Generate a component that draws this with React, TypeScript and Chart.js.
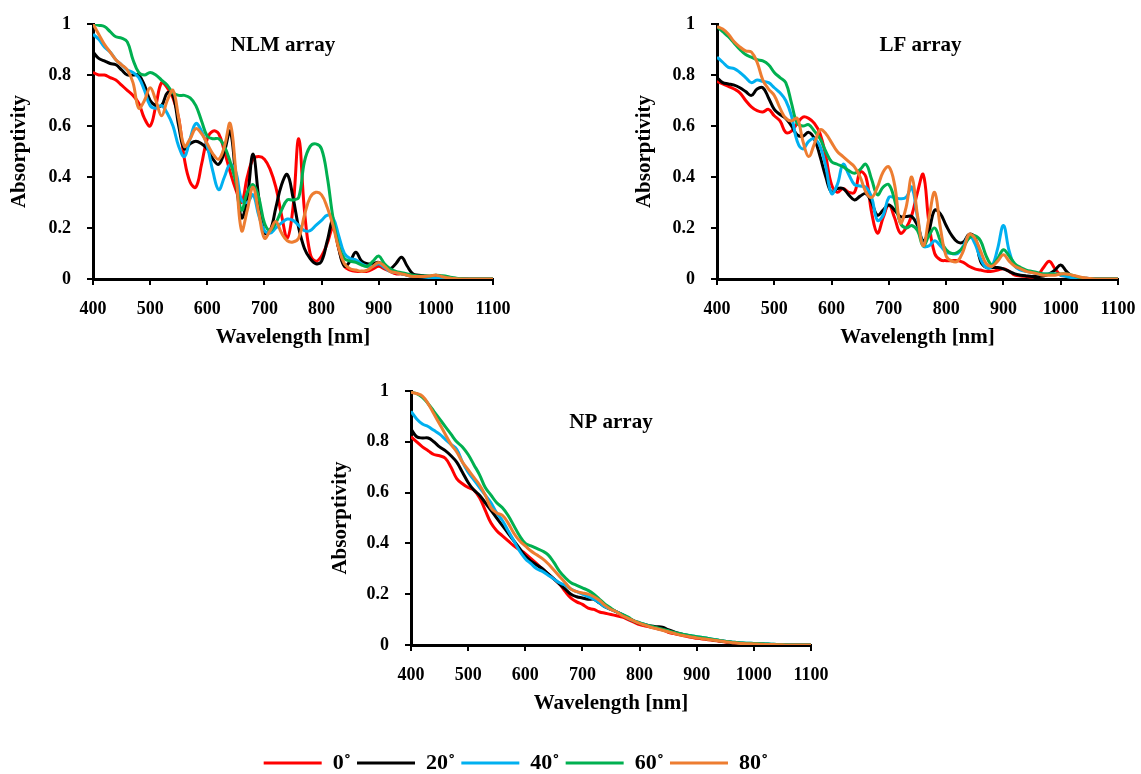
import { useEffect, useRef } from 'react';
import { Chart, registerables } from 'chart.js';

Chart.register(...registerables);

// ---------- data ----------
const wavelengths = [
  400, 410, 420, 430, 440, 450, 460, 470, 480, 490,
  500, 510, 520, 530, 540, 550, 560, 570, 580, 590,
  600, 610, 620, 630, 640, 650, 660, 670, 680, 690,
  700, 710, 720, 730, 740, 750, 760, 770, 780, 790,
  800, 810, 820, 830, 840, 850, 860, 870, 880, 890,
  900, 910, 920, 930, 940, 950, 960, 970, 980, 990,
  1000, 1010, 1020, 1030, 1040, 1050, 1060, 1070, 1080, 1090,
  1100,
];

const seriesLabels = ['0˚', '20˚', '40˚', '60˚', '80˚'];
const seriesColors = ['#FF0000', '#000000', '#00B0F0', '#00B050', '#ED7D31'];

const xTickLabels = ['400', '500', '600', '700', '800', '900', '1000', '1100'];
const yTickLabels = ['0', '0.2', '0.4', '0.6', '0.8', '1'];

// NLM array
const nlm0 = [
  0.81, 0.80, 0.80, 0.79, 0.78, 0.76, 0.74, 0.72, 0.69, 0.63,
  0.60, 0.68, 0.77, 0.75, 0.71, 0.63, 0.47, 0.38, 0.36, 0.45,
  0.55, 0.58, 0.57, 0.50, 0.42, 0.35, 0.30, 0.40, 0.47, 0.48,
  0.47, 0.43, 0.36, 0.25, 0.16, 0.28, 0.55, 0.27, 0.10, 0.07,
  0.09, 0.14, 0.20, 0.12, 0.05, 0.035, 0.03, 0.03, 0.03, 0.04,
  0.05, 0.04, 0.03, 0.02, 0.02, 0.015, 0.01, 0.01, 0.01, 0.01,
  0.015, 0.01, 0.005, 0.002, 0, 0, 0, 0, 0, 0,
  0,
];
const nlm20 = [
  0.89, 0.865, 0.855, 0.845, 0.84, 0.82, 0.80, 0.80, 0.80, 0.76,
  0.70, 0.68, 0.68, 0.73, 0.72, 0.60, 0.51, 0.53, 0.54, 0.53,
  0.51, 0.47, 0.45, 0.50, 0.58, 0.40, 0.24, 0.32, 0.49, 0.32,
  0.18, 0.19, 0.28, 0.37, 0.41, 0.32, 0.20, 0.12, 0.08, 0.06,
  0.07, 0.15, 0.23, 0.12, 0.05, 0.07, 0.105, 0.07, 0.06, 0.06,
  0.065, 0.05, 0.04, 0.06, 0.085, 0.05, 0.02, 0.015, 0.012, 0.01,
  0.01, 0.008, 0.005, 0.003, 0.002, 0.001, 0, 0, 0, 0,
  0,
];
const nlm40 = [
  0.96, 0.94, 0.91, 0.89, 0.86, 0.84, 0.82, 0.81, 0.79, 0.74,
  0.68, 0.67, 0.68, 0.65, 0.60, 0.52, 0.48, 0.55, 0.61, 0.58,
  0.52, 0.42, 0.35, 0.40, 0.45, 0.42, 0.31, 0.30, 0.33, 0.25,
  0.19, 0.18, 0.20, 0.22, 0.235, 0.23, 0.21, 0.19, 0.19, 0.21,
  0.23, 0.25, 0.24, 0.17, 0.10, 0.08, 0.075, 0.06, 0.05, 0.05,
  0.06, 0.045, 0.03, 0.025, 0.02, 0.015, 0.01, 0.01, 0.008, 0.006,
  0.005, 0.004, 0.002, 0.001, 0, 0, 0, 0, 0, 0,
  0,
];
const nlm60 = [
  1.0, 0.995, 0.99, 0.97, 0.95, 0.945, 0.93, 0.86, 0.81, 0.80,
  0.81, 0.80, 0.78, 0.76, 0.73, 0.72, 0.72, 0.71, 0.68, 0.62,
  0.56, 0.55, 0.55, 0.52, 0.46, 0.38, 0.27, 0.34, 0.37, 0.32,
  0.22, 0.19, 0.22, 0.27, 0.31, 0.31, 0.32, 0.46, 0.52, 0.53,
  0.51, 0.40, 0.24, 0.13, 0.08, 0.07, 0.065, 0.055, 0.05, 0.07,
  0.09, 0.06, 0.04, 0.03, 0.025, 0.02, 0.015, 0.012, 0.012, 0.012,
  0.015, 0.013, 0.01, 0.005, 0.002, 0, 0, 0, 0, 0,
  0,
];
const nlm80 = [
  1.0, 0.96, 0.92, 0.89, 0.86, 0.84, 0.82, 0.77, 0.67, 0.70,
  0.75, 0.70, 0.64, 0.70, 0.74, 0.63, 0.52, 0.55, 0.59, 0.57,
  0.53, 0.49, 0.47, 0.52, 0.61, 0.42, 0.19, 0.27, 0.36, 0.26,
  0.16, 0.19, 0.225, 0.18, 0.15, 0.145, 0.16, 0.25, 0.32, 0.34,
  0.33, 0.28, 0.21, 0.12, 0.06, 0.04, 0.035, 0.03, 0.035, 0.05,
  0.065, 0.05, 0.03, 0.025, 0.02, 0.015, 0.01, 0.01, 0.01, 0.012,
  0.015, 0.01, 0.005, 0.002, 0, 0, 0, 0, 0, 0,
  0,
];

// LF array
const lf0 = [
  0.775, 0.765, 0.755, 0.745, 0.73, 0.70, 0.675, 0.66, 0.655, 0.665,
  0.64, 0.62, 0.575, 0.58, 0.61, 0.635, 0.63, 0.61, 0.57, 0.48,
  0.37, 0.34, 0.355, 0.34, 0.34, 0.42, 0.40, 0.26, 0.18, 0.24,
  0.29, 0.24, 0.18, 0.20, 0.25, 0.34, 0.41, 0.22, 0.10, 0.075,
  0.072, 0.072, 0.072, 0.065, 0.05, 0.04, 0.035, 0.03, 0.03, 0.035,
  0.04, 0.03, 0.015, 0.012, 0.01, 0.008, 0.015, 0.045, 0.07, 0.04,
  0.015, 0.012, 0.008, 0.004, 0.002, 0, 0, 0, 0, 0,
  0,
];
const lf20 = [
  0.79, 0.77, 0.765, 0.76, 0.75, 0.735, 0.72, 0.745, 0.75, 0.71,
  0.665, 0.645, 0.63, 0.60, 0.565, 0.56, 0.575, 0.55, 0.48, 0.40,
  0.34, 0.355, 0.355, 0.33, 0.31, 0.325, 0.335, 0.30, 0.25, 0.27,
  0.29, 0.27, 0.245, 0.245, 0.245, 0.21, 0.15, 0.19, 0.27, 0.255,
  0.21, 0.17, 0.145, 0.145, 0.175, 0.165, 0.07, 0.045, 0.045, 0.045,
  0.04, 0.03, 0.02, 0.015, 0.012, 0.01, 0.01, 0.012, 0.02, 0.035,
  0.055, 0.03, 0.01, 0.005, 0.003, 0.002, 0, 0, 0, 0,
  0,
];
const lf40 = [
  0.87, 0.85, 0.83, 0.825, 0.81, 0.79, 0.77, 0.78, 0.775, 0.77,
  0.75, 0.73, 0.70, 0.64, 0.54, 0.51, 0.54, 0.55, 0.52, 0.44,
  0.335, 0.37, 0.45, 0.41, 0.37, 0.365, 0.36, 0.32, 0.23, 0.25,
  0.32, 0.32, 0.315, 0.32, 0.36, 0.24, 0.13, 0.13, 0.15, 0.13,
  0.105, 0.10, 0.10, 0.13, 0.17, 0.14, 0.08, 0.045, 0.05, 0.12,
  0.21, 0.11, 0.05, 0.035, 0.03, 0.025, 0.02, 0.02, 0.02, 0.02,
  0.015, 0.01, 0.005, 0.003, 0.001, 0, 0, 0, 0, 0,
  0,
];
const lf60 = [
  0.99, 0.97, 0.95, 0.925, 0.90, 0.88, 0.87, 0.86, 0.855, 0.84,
  0.81, 0.79, 0.77, 0.69, 0.61, 0.60, 0.605, 0.58, 0.55, 0.50,
  0.46, 0.45, 0.44, 0.425, 0.415, 0.43, 0.45, 0.39, 0.33, 0.36,
  0.37, 0.31, 0.22, 0.20, 0.21, 0.19, 0.13, 0.17, 0.20, 0.15,
  0.115, 0.10, 0.105, 0.125, 0.16, 0.17, 0.15, 0.09, 0.055, 0.08,
  0.115, 0.09, 0.06, 0.045, 0.035, 0.03, 0.025, 0.02, 0.02, 0.02,
  0.02, 0.02, 0.015, 0.008, 0.003, 0, 0, 0, 0, 0,
  0,
];
const lf80 = [
  0.99, 0.98, 0.96, 0.93, 0.91, 0.895, 0.89, 0.85, 0.78, 0.745,
  0.72, 0.67, 0.63, 0.62, 0.63, 0.54, 0.48, 0.53, 0.585, 0.57,
  0.535, 0.50, 0.48, 0.46, 0.44, 0.40, 0.34, 0.32, 0.36, 0.42,
  0.44, 0.37, 0.22, 0.28, 0.40, 0.25, 0.13, 0.24, 0.34, 0.20,
  0.09, 0.07, 0.07, 0.11, 0.175, 0.16, 0.11, 0.06, 0.05, 0.07,
  0.095, 0.07, 0.05, 0.04, 0.03, 0.025, 0.02, 0.015, 0.015, 0.015,
  0.02, 0.02, 0.015, 0.01, 0.005, 0.002, 0, 0, 0, 0,
  0,
];

// NP array
const np0 = [
  0.82, 0.80, 0.78, 0.765, 0.75, 0.745, 0.735, 0.70, 0.655, 0.635,
  0.62, 0.61, 0.58, 0.53, 0.48, 0.45, 0.43, 0.41, 0.39, 0.375,
  0.36, 0.34, 0.32, 0.30, 0.28, 0.26, 0.24, 0.21, 0.185, 0.17,
  0.16, 0.145, 0.14, 0.13, 0.125, 0.12, 0.115, 0.11, 0.10, 0.09,
  0.08, 0.075, 0.07, 0.065, 0.06, 0.05, 0.045, 0.04, 0.035, 0.03,
  0.027, 0.024, 0.021, 0.018, 0.015, 0.012, 0.01, 0.008, 0.006, 0.005,
  0.004, 0.003, 0.002, 0.002, 0.001, 0.001, 0, 0, 0, 0,
  0,
];
const np20 = [
  0.85, 0.82, 0.815, 0.815, 0.80, 0.78, 0.765, 0.745, 0.72, 0.68,
  0.64, 0.61, 0.59, 0.56, 0.53, 0.50, 0.47, 0.44, 0.41, 0.38,
  0.35, 0.33, 0.315, 0.30, 0.28, 0.26, 0.24, 0.22, 0.20, 0.19,
  0.185, 0.18, 0.18, 0.165, 0.15, 0.14, 0.13, 0.12, 0.105, 0.095,
  0.085, 0.08, 0.075, 0.072, 0.07, 0.06, 0.052, 0.045, 0.04, 0.035,
  0.03, 0.027, 0.024, 0.02, 0.017, 0.014, 0.011, 0.009, 0.007, 0.006,
  0.005, 0.004, 0.003, 0.002, 0.001, 0.001, 0, 0, 0, 0,
  0,
];
const np40 = [
  0.92, 0.89, 0.87, 0.86, 0.845, 0.83, 0.81, 0.79, 0.77, 0.72,
  0.68, 0.65, 0.62, 0.59, 0.56, 0.52, 0.49, 0.45, 0.41, 0.37,
  0.34, 0.32, 0.30, 0.29, 0.275, 0.26, 0.245, 0.235, 0.22, 0.21,
  0.20, 0.19, 0.18, 0.165, 0.15, 0.14, 0.13, 0.12, 0.105, 0.095,
  0.087, 0.08, 0.073, 0.066, 0.06, 0.054, 0.048, 0.043, 0.039, 0.036,
  0.033, 0.03, 0.026, 0.022, 0.018, 0.015, 0.012, 0.01, 0.008, 0.007,
  0.006, 0.005, 0.004, 0.003, 0.002, 0.001, 0.001, 0, 0, 0,
  0,
];
const np60 = [
  0.995, 0.99, 0.975, 0.95, 0.92, 0.89, 0.86, 0.83, 0.80, 0.78,
  0.75, 0.71, 0.67, 0.62, 0.59, 0.56, 0.54, 0.51, 0.47, 0.43,
  0.40, 0.39, 0.38, 0.37, 0.355, 0.325, 0.29, 0.265, 0.245, 0.235,
  0.225, 0.215, 0.20, 0.18, 0.16, 0.145, 0.13, 0.12, 0.11, 0.095,
  0.088, 0.08, 0.074, 0.068, 0.062, 0.056, 0.05, 0.045, 0.04, 0.036,
  0.033, 0.03, 0.026, 0.022, 0.018, 0.015, 0.012, 0.01, 0.008, 0.007,
  0.006, 0.005, 0.004, 0.003, 0.002, 0.001, 0.001, 0, 0, 0,
  0,
];
const np80 = [
  0.995, 0.99, 0.98, 0.95, 0.91, 0.87, 0.83, 0.79, 0.76, 0.72,
  0.69, 0.66, 0.63, 0.59, 0.54, 0.52, 0.51, 0.48, 0.44, 0.41,
  0.39, 0.37, 0.355, 0.34, 0.32, 0.295, 0.27, 0.245, 0.22, 0.21,
  0.205, 0.20, 0.19, 0.175, 0.155, 0.14, 0.13, 0.115, 0.105, 0.095,
  0.085, 0.078, 0.07, 0.064, 0.058, 0.052, 0.046, 0.04, 0.036, 0.032,
  0.028, 0.025, 0.022, 0.019, 0.016, 0.013, 0.01, 0.008, 0.006, 0.005,
  0.004, 0.003, 0.002, 0.002, 0.001, 0.001, 0, 0, 0, 0,
  0,
];

// ---------- layout / style ----------
const FONT = "'Liberation Serif', 'Times New Roman', serif";
const BLACK = '#000000';

type Box = { left: number; top: number; width: number; height: number };
type Area = { left: number; top: number; right: number; bottom: number };
type Panel = {
  key: string;
  title: string;
  series: number[][];
  canvas: Box;
  area: Area;
  titleDx: number;
  titleDy: number;
};

const panels: Panel[] = [
  {
    key: 'nlm',
    title: 'NLM array',
    series: [nlm0, nlm20, nlm40, nlm60, nlm80],
    canvas: { left: 0, top: 0, width: 523, height: 354 },
    area: { left: 93, top: 24, right: 493, bottom: 279 },
    titleDx: -10,
    titleDy: 22,
  },
  {
    key: 'lf',
    title: 'LF array',
    series: [lf0, lf20, lf40, lf60, lf80],
    canvas: { left: 625, top: 0, width: 516, height: 354 },
    area: { left: 717, top: 24, right: 1118, bottom: 279 },
    titleDx: 3,
    titleDy: 22,
  },
  {
    key: 'np',
    title: 'NP array',
    series: [np0, np20, np40, np60, np80],
    canvas: { left: 321, top: 360, width: 520, height: 360 },
    area: { left: 411, top: 391, right: 811, bottom: 645 },
    titleDx: 0,
    titleDy: 32,
  },
];

const panelTitlePlugin = {
  id: 'panelTitle',
  afterDraw(chart: any, _args: any, opts: any) {
    const { ctx, chartArea } = chart;
    ctx.save();
    ctx.font = `bold 21px ${FONT}`;
    ctx.fillStyle = BLACK;
    ctx.textAlign = 'center';
    ctx.textBaseline = 'middle';
    ctx.fillText(
      opts.text,
      (chartArea.left + chartArea.right) / 2 + opts.dx,
      chartArea.top + opts.dy
    );
    ctx.restore();
  },
};

function PanelChart({ panel }: { panel: Panel }) {
  const ref = useRef<HTMLCanvasElement | null>(null);
  const c = panel.canvas;
  const a = panel.area;

  useEffect(() => {
    if (!ref.current) return;
    const yAxisWidth = a.left - c.left;
    const xAxisHeight = c.top + c.height - a.bottom;
    const titleFont = { family: FONT, size: 21, weight: 'bold' as const };
    const chart = new Chart(ref.current, {
      type: 'line',
      data: {
        datasets: panel.series.map((vals, i) => ({
          label: seriesLabels[i],
          data: vals.map((v, j) => ({ x: wavelengths[j], y: v })),
          borderColor: seriesColors[i],
          backgroundColor: seriesColors[i],
          borderWidth: 3,
          pointRadius: 0,
          pointHoverRadius: 0,
          tension: 0.4,
          fill: false,
          order: panel.series.length - 1 - i,
        })),
      },
      options: {
        responsive: false,
        maintainAspectRatio: false,
        animation: false,
        devicePixelRatio: 1,
        events: [],
        layout: {
          padding: {
            left: 0,
            top: a.top - c.top,
            right: c.left + c.width - a.right,
            bottom: 0,
          },
        },
        plugins: {
          legend: { display: false },
          tooltip: { enabled: false },
          panelTitle: { text: panel.title, dx: panel.titleDx, dy: panel.titleDy },
        } as any,
        scales: {
          x: {
            type: 'linear',
            min: 400,
            max: 1100,
            afterFit: (s: any) => {
              s.height = xAxisHeight;
            },
            ticks: {
              stepSize: 100,
              autoSkip: false,
              maxRotation: 0,
              padding: 0,
              color: BLACK,
              font: { family: FONT, size: 18, weight: 'bold', lineHeight: 2.7 },
              callback: (_v: any, i: number) => xTickLabels[i],
            },
            grid: {
              display: true,
              drawOnChartArea: false,
              drawTicks: true,
              tickLength: 6,
              color: BLACK,
              lineWidth: 2,
            },
            border: { display: true, color: BLACK, width: 3 },
            title: {
              display: true,
              text: 'Wavelength [nm]',
              color: BLACK,
              font: titleFont,
              padding: { top: 0, bottom: 4 },
            },
          },
          y: {
            type: 'linear',
            min: 0,
            max: 1,
            afterFit: (s: any) => {
              s.width = yAxisWidth;
            },
            ticks: {
              stepSize: 0.2,
              autoSkip: false,
              padding: 16,
              color: BLACK,
              font: { family: FONT, size: 18, weight: 'bold', lineHeight: 0.8 },
              callback: (_v: any, i: number) => yTickLabels[i],
            },
            grid: {
              display: true,
              drawOnChartArea: false,
              drawTicks: true,
              tickLength: 6,
              color: BLACK,
              lineWidth: 2,
            },
            border: { display: true, color: BLACK, width: 3 },
            title: {
              display: true,
              text: 'Absorptivity',
              color: BLACK,
              font: titleFont,
              padding: { top: 7, bottom: 0 },
            },
          },
        },
      },
      plugins: [panelTitlePlugin],
    } as any);
    return () => chart.destroy();
  }, [panel]);

  return (
    <canvas
      ref={ref}
      width={c.width}
      height={c.height}
      style={{ position: 'absolute', left: c.left, top: c.top, width: c.width, height: c.height }}
    />
  );
}

const legendBox: Box = { left: 216, top: 750, width: 600, height: 24 };

function LegendChart() {
  const ref = useRef<HTMLCanvasElement | null>(null);
  useEffect(() => {
    if (!ref.current) return;
    const chart = new Chart(ref.current, {
      type: 'line',
      data: {
        datasets: seriesLabels.map((label, i) => ({
          label,
          data: [],
          borderColor: seriesColors[i],
          backgroundColor: seriesColors[i],
          borderWidth: 3,
          pointBorderColor: seriesColors[i],
          pointBackgroundColor: seriesColors[i],
          pointBorderWidth: 3,
          pointRadius: 0,
        })),
      },
      options: {
        responsive: false,
        maintainAspectRatio: false,
        animation: false,
        devicePixelRatio: 1,
        events: [],
        layout: { padding: 0 },
        scales: { x: { display: false }, y: { display: false } },
        plugins: {
          tooltip: { enabled: false },
          legend: {
            display: true,
            position: 'top',
            align: 'center',
            maxHeight: 40,
            labels: {
              usePointStyle: true,
              pointStyle: 'line',
              pointStyleWidth: 58,
              boxHeight: 22,
              padding: 6,
              color: BLACK,
              font: { family: FONT, size: 22, weight: 'bold' },
            },
          },
        },
      },
    } as any);
    return () => chart.destroy();
  }, []);
  return (
    <canvas
      ref={ref}
      width={legendBox.width}
      height={legendBox.height}
      style={{
        position: 'absolute',
        left: legendBox.left,
        top: legendBox.top - 4,
        width: legendBox.width,
        height: legendBox.height,
      }}
    />
  );
}

export default function App() {
  return (
    <div
      style={{
        position: 'absolute',
        left: 0,
        top: 0,
        width: 1141,
        height: 774,
        background: '#ffffff',
        overflow: 'hidden',
      }}
    >
      {panels.map((p) => (
        <PanelChart key={p.key} panel={p} />
      ))}
      <LegendChart />
    </div>
  );
}
